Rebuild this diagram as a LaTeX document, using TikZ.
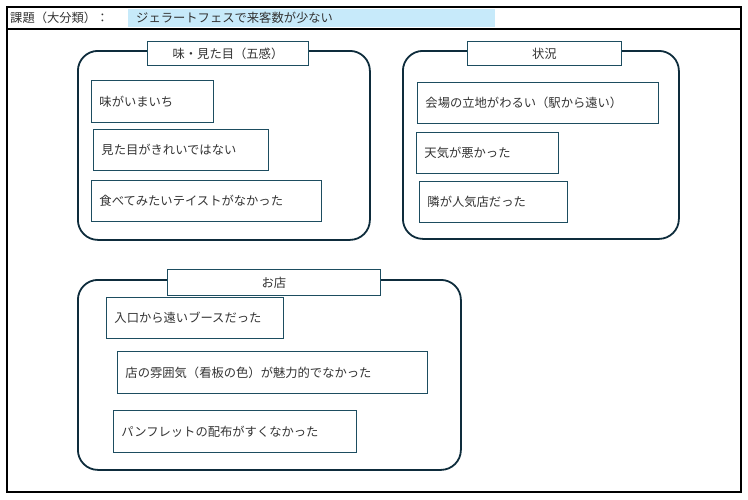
\documentclass[tikz,border=0pt]{standalone}
\usepackage{fontspec}
\setmainfont{Noto Sans CJK JP}
\usepackage{tikz}
\usetikzlibrary{positioning}
\usepackage{xcolor}
\definecolor{marine}{HTML}{0E2C3C}
\definecolor{sarcelle}{HTML}{1D4D60}
\definecolor{bleuclair}{HTML}{C7EAFA}
\tikzset{
    cadre/.style={line width=1.6pt, black},
    groupe/.style={draw=marine, line width=1.8pt, rounded corners=20pt, anchor=north west, inner sep=0pt},
    titre/.style={draw=sarcelle, line width=0.9pt, fill=white, anchor=north west, inner sep=0pt},
    idee/.style={draw=sarcelle, line width=0.9pt, anchor=north west, inner xsep=8pt, inner ysep=0pt, align=left},
}

\begin{document}
\begin{tikzpicture}[x=1pt, y=-1pt, font=\fontsize{12.3}{14}\selectfont, text=black!80]
\useasboundingbox (0,0) rectangle (748,499);
% En-tete
\draw[cadre] (7,7) rectangle (741,492);
\draw[cadre] (7,29) -- (741,29);
\node[anchor=west, inner sep=0pt] (lib) at (10,18) {課題（大分類）：};
\node[fill=bleuclair, anchor=north west, inner sep=0pt, minimum width=367pt, minimum height=18pt] (bande) at (128,9) {};
\node[anchor=west, inner sep=0pt] (sujet) at (136,18) {ジェラートフェスで来客数が少ない};

% Groupe 1 : gout et apparence
\node[groupe, minimum width=292pt, minimum height=189pt] (g1) at (77,50) {};
\node[titre, minimum width=161pt, minimum height=24pt] (t1) at (147,41) {味・見た目（五感）};
\node[idee, text width=106pt, minimum height=42pt] (a1) at (91,80) {味がいまいち};
\node[idee, text width=159pt, minimum height=41pt] (a2) at (93,129) {見た目がきれいではない};
\node[idee, text width=214pt, minimum height=41pt] (a3) at (91,180) {食べてみたいテイストがなかった};

% Groupe 2 : situation
\node[groupe, minimum width=276pt, minimum height=188pt] (g2) at (402,50) {};
\node[titre, minimum width=154pt, minimum height=24pt] (t2) at (467,41) {状況};
\node[idee, text width=225pt, minimum height=41pt] (b1) at (417,82) {会場の立地がわるい（駅から遠い）};
\node[idee, text width=126pt, minimum height=41pt] (b2) at (416,132) {天気が悪かった};
\node[idee, text width=132pt, minimum height=41pt] (b3) at (419,181) {隣が人気店だった};

% Groupe 3 : boutique
\node[groupe, minimum width=383pt, minimum height=190pt] (g3) at (77,279) {};
\node[titre, minimum width=213pt, minimum height=26pt] (t3) at (167,269) {お店};
\node[idee, text width=161pt, minimum height=41pt] (c1) at (106,297) {入口から遠いブースだった};
\node[idee, text width=294pt, minimum height=42pt] (c2) at (117,351) {店の雰囲気（看板の色）が魅力的でなかった};
\node[idee, text width=227pt, minimum height=42pt] (c3) at (113,410) {パンフレットの配布がすくなかった};
\end{tikzpicture}
\end{document}
